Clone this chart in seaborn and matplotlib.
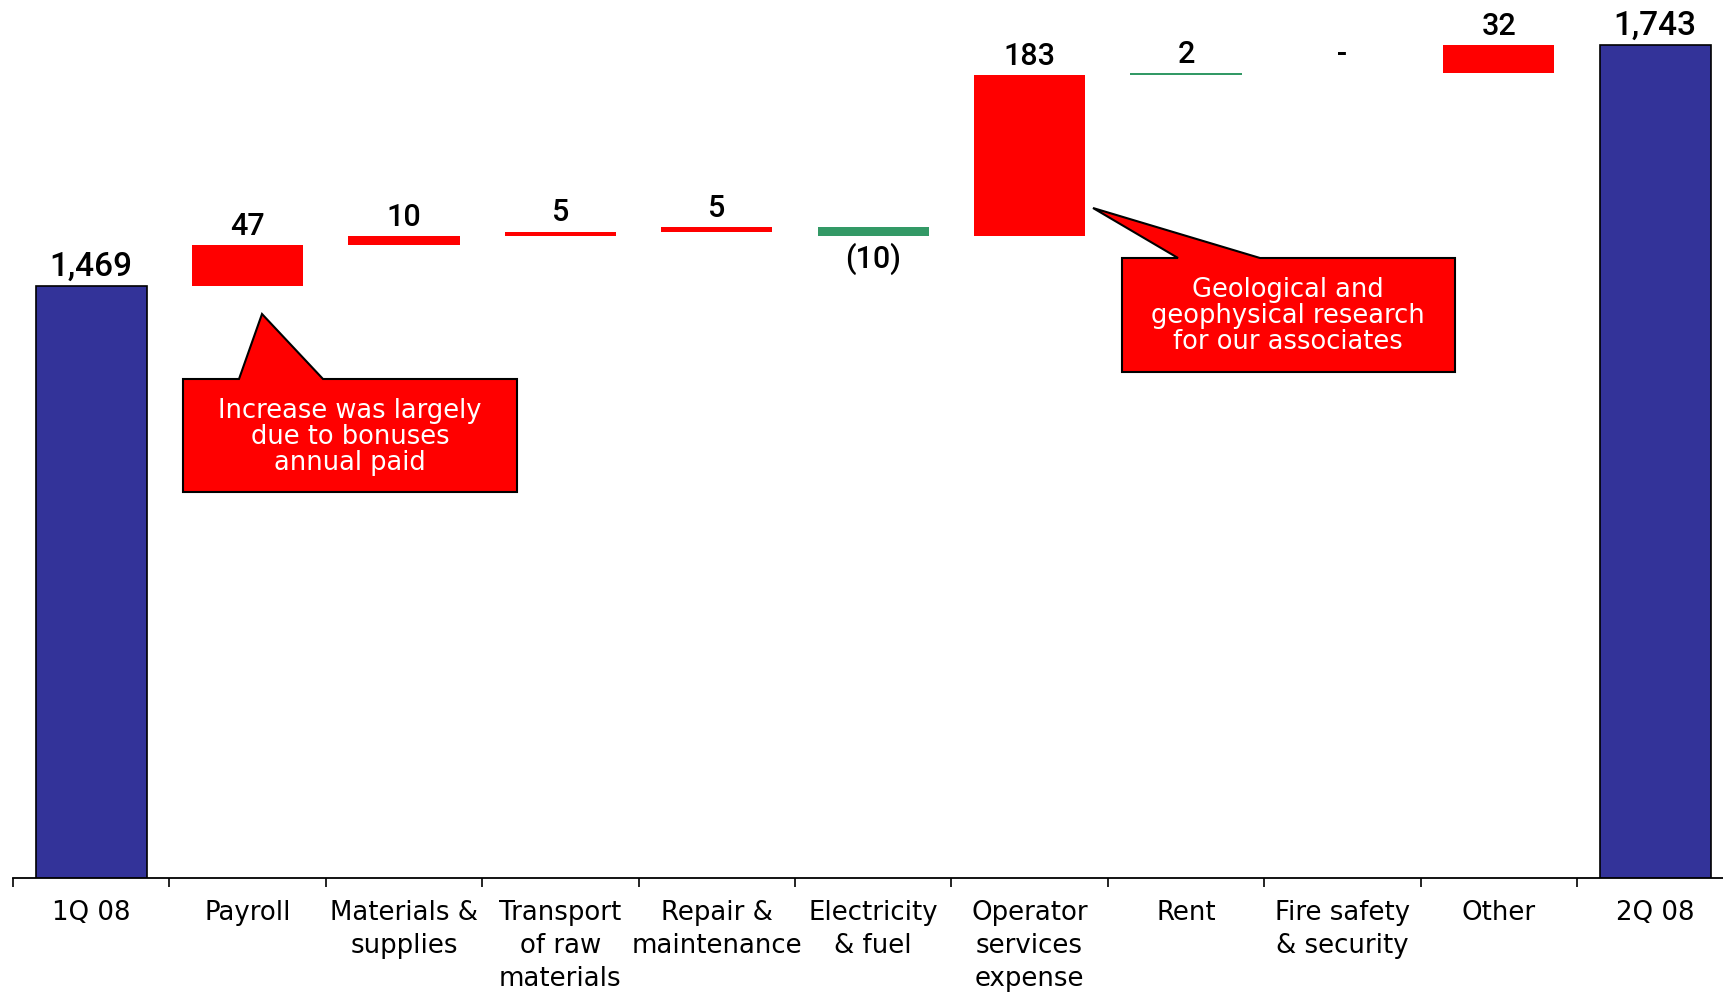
import numpy as np
import pandas as pd
import seaborn as sns
import matplotlib.pyplot as plt
from matplotlib.patches import Polygon

# waterfall data (RUB mn), 1Q 08 -> 2Q 08
categories = ['1Q 08', 'Payroll', 'Materials &\nsupplies', 'Transport\nof raw\nmaterials',
              'Repair &\nmaintenance', 'Electricity\n& fuel', 'Operator\nservices\nexpense',
              'Rent', 'Fire safety\n& security', 'Other', '2Q 08']
values = [1469, 47, 10, 5, 5, -10, 183, 2, 0, 32, 1743]
is_total = [True, False, False, False, False, False, False, False, False, False, True]

note_payroll = 'Increase was largely\ndue to bonuses\nannual paid'
note_operator = 'Geological and\ngeophysical research\nfor our associates'

BLUE = '#333399'
RED = '#FF0000'
GREEN = '#339966'
bar_colors = [BLUE, RED, RED, RED, RED, GREEN, RED, GREEN, RED, RED, BLUE]

# running totals -> floating bars
bottoms, heights = [], []
running = 0
for v, tot in zip(values, is_total):
    if tot:
        bottoms.append(0)
        heights.append(v)
        running = v
    else:
        bottoms.append(running)
        heights.append(v)
        running += v

df = pd.DataFrame({'cat': categories, 'h': heights})

sns.set_style('white')
W, H = 1724, 995
fig = plt.figure(figsize=(W / 100, H / 100), dpi=100)
ax = fig.add_axes([13 / W, 116 / H, 1720.4 / W, 879 / H])

sns.barplot(data=df, x='cat', y='h', bottom=bottoms, width=0.71, ax=ax,
            color=RED, saturation=1, linewidth=0)
for patch, c, tot in zip(ax.patches, bar_colors, is_total):
    patch.set_facecolor(c)
    if tot:
        patch.set_edgecolor('black')
        patch.set_linewidth(1.2)
    else:
        patch.set_edgecolor('none')

ax.set_xlim(-0.5, len(categories) - 0.5)
ax.set_ylim(797, 1795)

# value labels
for i, (v, b, tot) in enumerate(zip(values, bottoms, is_total)):
    if tot:
        txt, size = f'{v:,}', 24
    elif v < 0:
        txt, size = f'({-v})', 22
    elif v == 0:
        txt, size = '-', 22
    else:
        txt, size = str(v), 22
    if v < 0:
        ax.annotate(txt, (i, b + v), xytext=(0, -4), textcoords='offset points',
                    ha='center', va='top', fontsize=size, family='Roboto',
                    fontweight='medium', color='black')
    else:
        ax.annotate(txt, (i, b + v), xytext=(0, 8), textcoords='offset points',
                    ha='center', va='baseline', fontsize=size, family='Roboto',
                    fontweight='medium', color='black')

# axis styling
sns.despine(ax=ax, left=True)
ax.spines['bottom'].set_linewidth(1.3)
ax.spines['bottom'].set_color('black')
ax.set_yticks([])
ax.set_xlabel('')
ax.set_ylabel('')
ax.set_xticks(range(len(categories)))
ax.set_xticklabels(categories, fontsize=18.7, family='DejaVu Sans', linespacing=1.35,
                   color='black')
ax.set_xticks(np.arange(-0.5, len(categories)), minor=True)
ax.tick_params(axis='x', which='major', bottom=True, length=0, pad=15)
ax.tick_params(axis='x', which='minor', bottom=True, length=6.5, width=1.2,
               color='black', direction='out')


def px(pts):
    return [(x / W, 1 - y / H) for x, y in pts]


callout1 = [(183, 380), (239, 380), (262, 315), (323, 380), (517, 380), (517, 493), (183, 493)]
callout2 = [(1122, 259), (1178, 259), (1093, 209), (1260, 259), (1455, 259), (1455, 373), (1122, 373)]
for shape in (callout1, callout2):
    fig.patches.append(Polygon(px(shape), closed=True, transform=fig.transFigure,
                               facecolor=RED, edgecolor='black', linewidth=1.5, zorder=5))

fig.text(350 / W, 1 - 437 / H, note_payroll, color='white', fontsize=18.5,
         family='DejaVu Sans', ha='center', va='center', linespacing=1.0, zorder=6)
fig.text(1288 / W, 1 - 316 / H, note_operator, color='white', fontsize=18.5,
         family='DejaVu Sans', ha='center', va='center', linespacing=1.0, zorder=6)

fig.savefig('out.png', dpi=100)
